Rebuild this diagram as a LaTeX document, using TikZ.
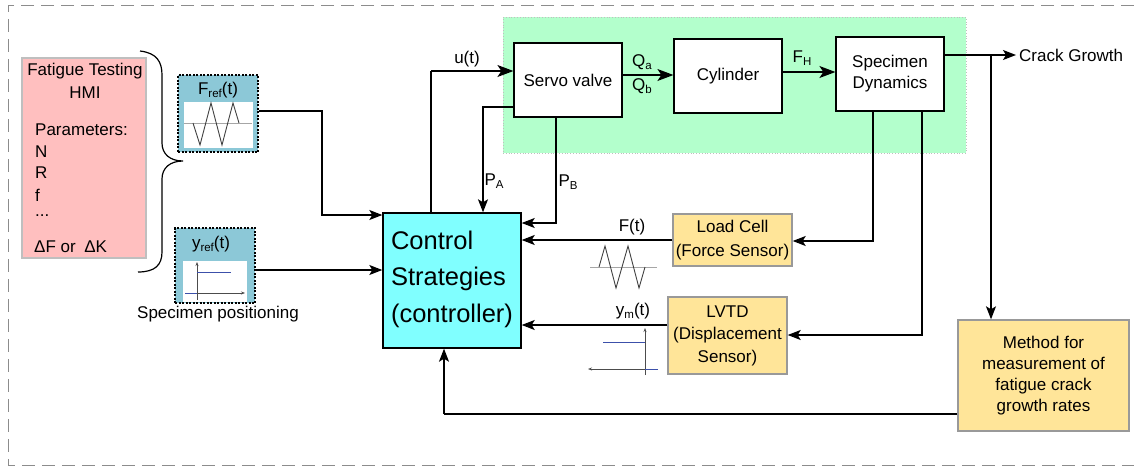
\documentclass[tikz,border=0pt]{standalone}
\usepackage{fontspec}
\setmainfont{Liberation Sans}
\usetikzlibrary{arrows.meta}
\newcommand{\mysb}[1]{\raisebox{-0.4ex}{\fontsize{11.5}{11.5}\selectfont #1}}
\definecolor{pinkfill}{RGB}{255,191,191}
\definecolor{tealfill}{RGB}{140,200,215}
\definecolor{greenfill}{RGB}{179,255,204}
\definecolor{cyanfill}{RGB}{128,255,255}
\definecolor{yellowfill}{RGB}{255,229,153}
\definecolor{plotblue}{RGB}{60,80,170}
\begin{document}
\begin{tikzpicture}[x=1pt,y=-1pt,
  txt/.style={font=\fontsize{17}{21}\selectfont, inner sep=0pt},
  blk/.style={draw=black, line width=1.2pt, fill=white, txt, align=center},
  ybox/.style={draw=black!40, line width=1.4pt, fill=yellowfill, txt, align=center},
  refbox/.style={draw=black, line width=1.1pt, dash pattern=on 2pt off 1.5pt, fill=tealfill},
  arr/.style={line width=1.2pt, -{Stealth[length=13pt,width=10pt,inset=3pt]}},
  arrbig/.style={line width=1.2pt, -{Stealth[length=16pt,width=12pt,inset=4pt]}},
  wire/.style={line width=1.2pt},
  thinax/.style={line width=0.7pt, black!70, -{Stealth[length=4pt,width=3pt]}},
]
\useasboundingbox (0,0) rectangle (1134,466);
% outer dashed frame
\draw[black!45, line width=1pt, dash pattern=on 13pt off 7pt] (1134,5) -- (8,5) -- (8,465) -- (1134,465);

% plant region
\node[draw=black!25, dotted, line width=0.8pt, fill=greenfill, minimum width=463pt, minimum height=136pt, inner sep=0pt] (plant) at (734.5,85) {};

% HMI box
\node[draw=black!25, line width=1.2pt, fill=pinkfill, minimum width=124pt, minimum height=200pt, inner sep=0pt] (hmi) at (84,158) {};
\node[txt, align=center, font=\fontsize{17}{23}\selectfont] (hmit) at (85,80.5) {Fatigue Testing\\HMI};
\node[txt, anchor=west] (p0) at (35,130) {Parameters:};
\node[txt, anchor=west] (p1) at (35,152) {N};
\node[txt, anchor=west] (p2) at (35,173) {R};
\node[txt, anchor=west] (p3) at (35,195) {f};
\node[txt, anchor=west] (p4) at (35,216) {...};
\node[txt, anchor=west] (p5) at (34,247) {ΔF or\,\,\,ΔK};

% brace
\draw[line width=1.2pt] (140,51) .. controls (157,53) and (162,62) .. (162,75) -- (162,143)
  .. controls (162,154) and (170,161) .. (183,161)
  .. controls (170,161) and (162,168) .. (162,179) -- (162,252)
  .. controls (162,265) and (155,272) .. (138,272);

% F_ref box
\node[refbox, minimum width=80pt, minimum height=77pt, inner sep=0pt] (fref) at (218,113.5) {};
\node[txt] (freft) at (218,90) {F\mysb{ref}(t)};
\fill[white] (184,102) rectangle (253,148);
\draw[black!35, line width=0.8pt] (184,123) -- (252,123);
\draw[black!75, line width=0.9pt] (193,123) -- (200,145) -- (211,103) -- (222,145) -- (233,103) -- (239,123);

% y_ref box
\node[refbox, minimum width=80pt, minimum height=75pt, inner sep=0pt] (yref) at (215,265.5) {};
\node[txt] (yreft) at (211,244) {y\mysb{ref}(t)};
\fill[white] (183,261) rectangle (247,302);
\draw[thinax] (197,300) -- (197,262);
\draw[thinax] (185,293) -- (245,293);
\draw[plotblue, line width=0.9pt] (185,293) -- (197,293);
\draw[plotblue, line width=0.9pt] (197,272) -- (231,272);
\node[txt] (specpos) at (218,314) {Specimen positioning};

% main blocks
\node[blk, minimum width=108pt, minimum height=74pt] (servo) at (568,80) {Servo valve};
\node[blk, minimum width=108pt, minimum height=74pt] (cyl) at (728,76) {Cylinder};
\node[blk, minimum width=108pt, minimum height=74pt] (spec) at (890,74) {Specimen\\Dynamics};
\node[draw=black, line width=1.4pt, fill=cyanfill, minimum width=138pt, minimum height=135pt, inner sep=0pt] (ctrl) at (452,280.5) {};
\node[txt, align=left, font=\fontsize{25.5}{36.5}\selectfont] (ctrlt) at (452,279) {Control\\Strategies\\(controller)};
\node[ybox, minimum width=119pt, minimum height=52pt, font=\fontsize{17}{24}\selectfont] (load) at (732.5,240) {Load Cell\\(Force Sensor)};
\node[ybox, minimum width=119pt, minimum height=77pt, font=\fontsize{17}{22.5}\selectfont] (lvtd) at (727.5,335.5) {LVTD\\(Displacement\\Sensor)};
\node[ybox, minimum width=171pt, minimum height=111pt, font=\fontsize{17}{21}\selectfont] (method) at (1043.5,375.5) {Method for\\measurement of\\fatigue crack\\growth rates};

% connectors
\coordinate (u1) at (431,71);
\draw[wire] (u1 |- ctrl.north) -- (u1);
\draw[arrbig] (u1) -- (u1 -| servo.west);
\node[txt] (ut) at (467,59) {u(t)};

\coordinate (pa) at (483,107);
\draw[arr] (pa -| servo.west) -- (pa) -- (pa |- ctrl.north);
\node[txt] (pat) at (494,181) {P\mysb{A}};
\coordinate (pb) at (556,223);
\draw[arr] (pb |- servo.south) -- (pb) -- (pb -| ctrl.east);
\node[txt] (pbt) at (568,182) {P\mysb{B}};

\coordinate (q) at (650,75);
\draw[arrbig] (q -| servo.east) -- (q -| cyl.west);
\node[txt] (qat) at (642,62) {Q\mysb{a}};
\node[txt] (qbt) at (642,86) {Q\mysb{b}};
\coordinate (fh) at (800,72);
\draw[arrbig] (fh -| cyl.east) -- (fh -| spec.west);
\node[txt] (fht) at (802,58) {F\mysb{H}};

\coordinate (cg) at (1016,55);
\draw[arr] (cg -| spec.east) -- (cg);
\node[txt, anchor=west] (cgt) at (1019,55) {Crack Growth};
\coordinate (br) at (991,55);
\draw[arr] (br) -- (br |- method.north);

\coordinate (s1) at (873,241);
\draw[arr] (s1 |- spec.south) -- (s1) -- (s1 -| load.east);
\coordinate (s2) at (922,335);
\draw[arr] (s2 |- spec.south) -- (s2) -- (s2 -| lvtd.east);

\coordinate (ft) at (600,240);
\draw[arr] (ft -| load.west) -- (ft -| ctrl.east);
\node[txt] (ftt) at (632,227) {F(t)};
\draw[black!35, line width=0.8pt] (590,267) -- (657,267);
\draw[black!75, line width=0.9pt] (599,267) -- (605,246) -- (616,288) -- (628,246) -- (639,288) -- (645,267);

\coordinate (ym) at (600,325);
\draw[arr] (ym -| lvtd.west) -- (ym -| ctrl.east);
\node[txt] (ymt) at (633,311) {y\mysb{m}(t)};
\draw[thinax] (645,375) -- (645,328);
\draw[thinax] (658,369) -- (588,369);
\draw[plotblue, line width=0.9pt] (603,342) -- (645,342);
\draw[plotblue, line width=0.9pt] (645,369) -- (658,369);

\coordinate (mt) at (444,414);
\draw[wire] (mt -| method.west) -- (mt);
\draw[arr] (mt) -- (mt |- ctrl.south);

\coordinate (fr) at (322,111);
\coordinate (fr2) at (322,215);
\draw[arr] (fr -| fref.east) -- (fr) -- (fr2) -- (fr2 -| ctrl.west);
\coordinate (yr) at (300,270);
\draw[arr] (yr -| yref.east) -- (yr -| ctrl.west);
\end{tikzpicture}
\end{document}
